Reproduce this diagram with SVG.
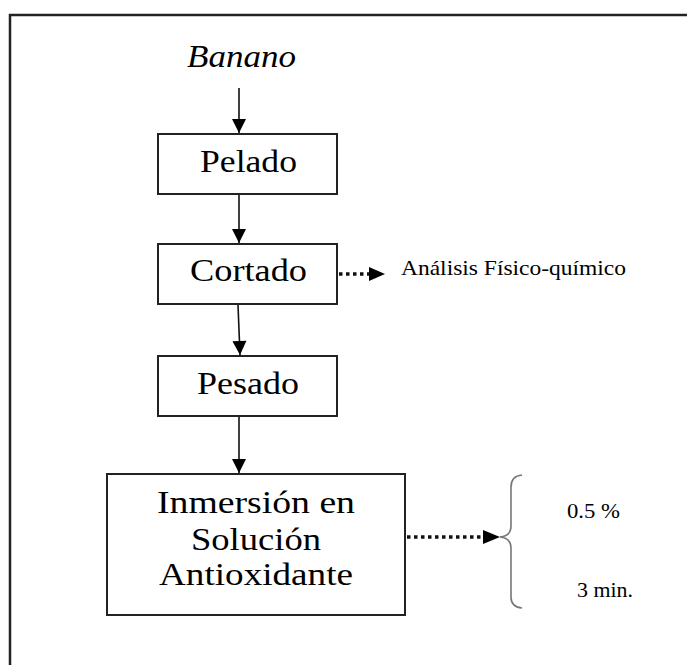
<svg xmlns="http://www.w3.org/2000/svg" width="687" height="665" viewBox="0 0 687 665">
<style>
.box{fill:#fff;stroke:#222;stroke-width:2}
text{font-family:'Liberation Serif','Times New Roman',Times,serif;fill:#000}
.big{font-size:31px}
.sm{font-size:21px}
.solid{stroke:#111;stroke-width:1.6;fill:none}
.dot{stroke:#111;stroke-width:3.5;fill:none;stroke-dasharray:3.5 3.5}
</style>
<defs>
<marker id="ah" markerUnits="userSpaceOnUse" markerWidth="16" markerHeight="16" viewBox="0 0 16 16" refX="15" refY="8" orient="auto">
<path d="M1,1 L15,8 L1,15 Z" fill="#000"/>
</marker>
</defs>
<rect x="10" y="15" width="700" height="700" fill="none" stroke="#222" stroke-width="2.5"/>
<text id="banano" class="big" x="187" y="67" font-style="italic" textLength="109" lengthAdjust="spacingAndGlyphs">Banano</text>
<g id="pelado">
<rect class="box" x="158" y="134" width="179" height="60"/>
<text class="big" x="200" y="172" textLength="97" lengthAdjust="spacingAndGlyphs">Pelado</text>
</g>
<g id="cortado">
<rect class="box" x="158" y="244" width="179" height="60"/>
<text class="big" x="190" y="281" textLength="117" lengthAdjust="spacingAndGlyphs">Cortado</text>
</g>
<g id="pesado">
<rect class="box" x="158" y="356" width="179" height="60"/>
<text class="big" x="197" y="394" textLength="102" lengthAdjust="spacingAndGlyphs">Pesado</text>
</g>
<g id="inmersion">
<rect class="box" x="107" y="474" width="298" height="141"/>
<text class="big" x="157" y="513" textLength="198" lengthAdjust="spacingAndGlyphs">Inmersión en</text>
<text class="big" x="191" y="550" textLength="130" lengthAdjust="spacingAndGlyphs">Solución</text>
<text class="big" x="159" y="585" textLength="194" lengthAdjust="spacingAndGlyphs">Antioxidante</text>
</g>
<g id="analisis">
<text class="sm" x="401" y="275" textLength="225" lengthAdjust="spacingAndGlyphs">Análisis Físico-químico</text>
</g>
<g id="parametros">
<path d="M522,475 Q511,476 511,487 L511,526 Q511,536 500,537 Q511,538 511,548 L511,597 Q511,607 522,608" fill="none" stroke="#777" stroke-width="1.6"/>
<text class="sm" x="567" y="518" textLength="53" lengthAdjust="spacingAndGlyphs">0.5 %</text>
<text class="sm" x="577" y="597" textLength="56" lengthAdjust="spacingAndGlyphs">3 min.</text>
</g>
<g id="connectors">
<line class="solid" x1="239" y1="88" x2="239" y2="133" marker-end="url(#ah)"/>
<line class="solid" x1="239" y1="195" x2="239" y2="243" marker-end="url(#ah)"/>
<line class="solid" x1="238" y1="305" x2="240" y2="355" marker-end="url(#ah)"/>
<line class="solid" x1="239" y1="417" x2="239" y2="473" marker-end="url(#ah)"/>
<line class="dot" x1="339" y1="274" x2="372" y2="274"/>
<path d="M369,267 L385,274 L369,281 Z" fill="#000"/>
<line class="dot" x1="407" y1="537" x2="486" y2="537"/>
<path d="M483,530 L500,537 L483,544 Z" fill="#000"/>
</g>
</svg>
